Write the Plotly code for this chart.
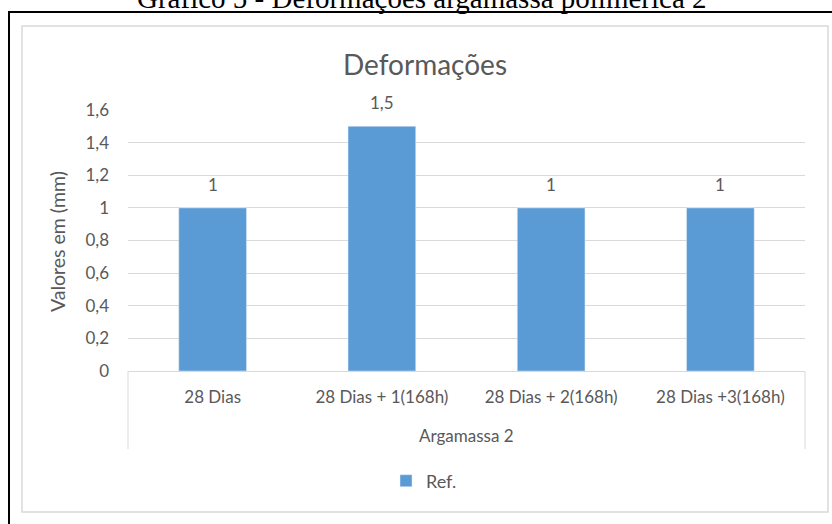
import plotly.graph_objects as go

categories = ["28 Dias", "28 Dias + 1(168h)", "28 Dias + 2(168h)", "28 Dias +3(168h)"]
values = [1, 1.5, 1, 1]
group_label = "Argamassa 2"
series_name = "Ref."

W, H = 832, 524
L, R, T, B = 128, 27, 110, 153
PW, PH = W - L - R, H - T - B

TXT = "#595959"
FONT = "Lato"


def px_x(p):
    return (p - L) / PW


def px_y(p):
    return (H - B - p) / PH


def fmt(v):
    return f"{v:g}".replace(".", ",")


fig = go.Figure()

fig.add_trace(go.Bar(
    x=categories,
    y=values,
    name=series_name,
    marker_color="#5B9BD5",
    width=0.4,
    showlegend=True,
))

annotations = []
for c, v in zip(categories, values):
    annotations.append(dict(
        x=c, y=v, text=fmt(v), showarrow=False,
        yanchor="bottom", yshift=11,
        font=dict(family=FONT, size=17, color=TXT),
    ))

annotations += [
    dict(xref="paper", yref="paper", x=px_x(57), y=px_y(242),
         xanchor="center", yanchor="middle",
         text="Valores em (mm)", textangle=-90, showarrow=False,
         font=dict(family=FONT, size=19.5, color=TXT)),
    dict(xref="paper", yref="paper", x=0.5, y=px_y(436),
         xanchor="center", yanchor="middle",
         text=group_label, showarrow=False,
         font=dict(family=FONT, size=17, color=TXT)),
    dict(xref="paper", yref="paper", x=px_x(422), y=px_y(-2),
         text="Gráfico 5 - Deformações argamassa polimérica 2",
         showarrow=False, xanchor="center", yanchor="middle",
         font=dict(family="Liberation Serif", size=29, color="black")),
]

shapes = [
    # grey chart frame
    dict(type="rect", xref="paper", yref="paper",
         x0=px_x(22), x1=px_x(828), y0=px_y(512), y1=px_y(26),
         line=dict(color="#D9D9D9", width=1.5), layer="below"),
    # black outer border
    dict(type="rect", xref="paper", yref="paper",
         x0=px_x(9), x1=px_x(840), y0=px_y(540), y1=px_y(12),
         line=dict(color="black", width=2)),
    # group dividers
    dict(type="line", xref="paper", yref="paper",
         x0=0, x1=0, y0=px_y(371), y1=px_y(449),
         line=dict(color="#D9D9D9", width=1)),
    dict(type="line", xref="paper", yref="paper",
         x0=1, x1=1, y0=px_y(371), y1=px_y(449),
         line=dict(color="#D9D9D9", width=1)),
]

fig.update_layout(
    width=W, height=H,
    margin=dict(l=L, r=R, t=T, b=B),
    paper_bgcolor="white",
    plot_bgcolor="white",
    separators=",.",
    font=dict(family=FONT, color=TXT),
    title=dict(text="Deformações", x=425 / W, xanchor="center",
               y=1 - 65 / H, yanchor="middle",
               font=dict(family=FONT, size=28, color=TXT)),
    legend=dict(orientation="h", x=px_x(424), xanchor="center",
                y=px_y(481), yanchor="middle",
                font=dict(family=FONT, size=18, color=TXT)),
    annotations=annotations,
    shapes=shapes,
)

fig.update_yaxes(
    range=[0, 1.6], dtick=0.2, showgrid=True, gridcolor="#D9D9D9",
    gridwidth=1, zeroline=False, showline=False, ticks="",
    ticklabelstandoff=18,
    tickfont=dict(family=FONT, size=17, color=TXT),
)
fig.update_xaxes(
    showline=True, linecolor="#D9D9D9", linewidth=1, ticks="",
    ticklabelstandoff=11,
    tickfont=dict(family=FONT, size=17, color=TXT),
)

fig.write_html(
    "out.html",
    config={"displayModeBar": False},
    post_script="document.body.style.margin = '0';",
)
